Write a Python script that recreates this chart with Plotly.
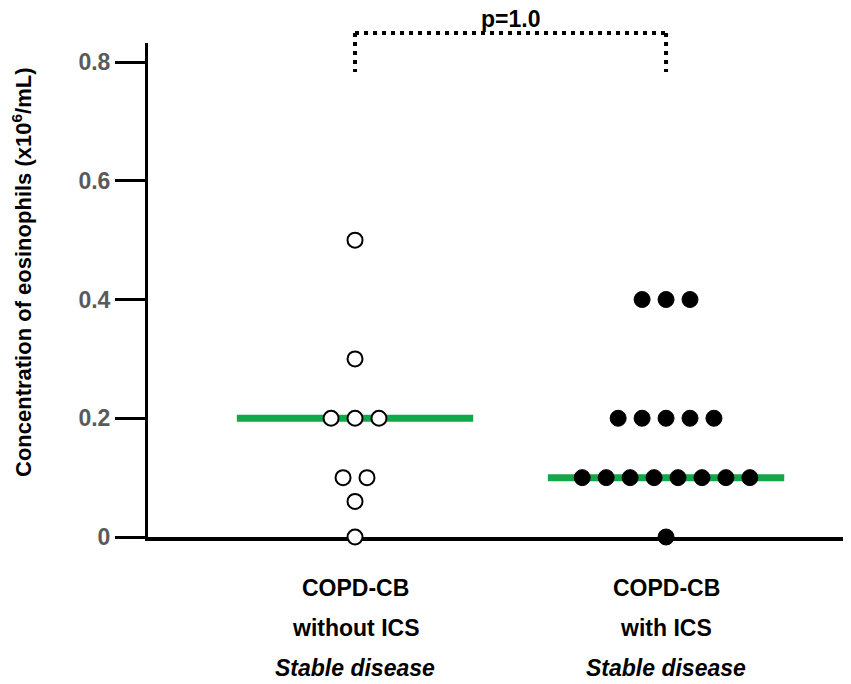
import numpy as np
import plotly.graph_objects as go

# ---- data ----
group_names = ["COPD-CB without ICS", "COPD-CB with ICS"]
group_label_lines = [["COPD-CB", "without ICS", "<i>Stable disease</i>"],
                     ["COPD-CB", "with ICS", "<i>Stable disease</i>"]]
without_ics = [0.5, 0.3, 0.2, 0.2, 0.2, 0.1, 0.1, 0.06, 0.0]
with_ics = [0.4, 0.4, 0.4,
            0.2, 0.2, 0.2, 0.2, 0.2,
            0.1, 0.1, 0.1, 0.1, 0.1, 0.1, 0.1, 0.1,
            0.0]
y_tick_vals = [0, 0.2, 0.4, 0.6, 0.8]
y_tick_text = ["0", "0.2", "0.4", "0.6", "0.8"]
y_title = "Concentration of eosinophils (x10<sup>6</sup>/mL)"
p_text = "p=1.0"

# ---- layout constants ----
FONT = "Liberation Sans, Arial, sans-serif"
XMIN, XMAX = 0.3344, 2.585
YMIN, YMAX = 0.0, 0.832
STEP = 0.077          # horizontal spacing of swarm points (x units)
HALF = 0.38           # half width of median bar
GREEN = "#12a84a"
OFF = 8               # page body margin in the browser
W, H = 851 - OFF, 684 - OFF
ML, MT = 148 - OFF, 43 - OFF
MB = 684 - 537
MR = W - (848 - OFF)


def swarm_x(values, center):
    xs = np.zeros(len(values))
    vals = np.array(values)
    for v in np.unique(vals):
        idx = np.where(vals == v)[0]
        n = len(idx)
        xs[idx] = center + (np.arange(n) - (n - 1) / 2) * STEP
    return xs


fig = go.Figure()
groups = [without_ics, with_ics]
for gi, vals in enumerate(groups):
    c = gi + 1
    med = float(np.median(vals))
    fig.add_trace(go.Scatter(x=[c - HALF, c + HALF], y=[med, med], mode="lines",
                             line=dict(color=GREEN, width=7), showlegend=False,
                             hoverinfo="skip"))

fig.add_trace(go.Scatter(x=swarm_x(without_ics, 1), y=without_ics, mode="markers",
                         marker=dict(size=15, color="white", line=dict(color="black", width=2)),
                         cliponaxis=False, showlegend=False, name=group_names[0]))
fig.add_trace(go.Scatter(x=swarm_x(with_ics, 2), y=with_ics, mode="markers",
                         marker=dict(size=16, color="black", line=dict(color="black", width=1)),
                         cliponaxis=False, showlegend=False, name=group_names[1]))


def px(x):
    return (x - XMIN) / (XMAX - XMIN)


plot_h = H - MT - MB
y_br = 1 + 10 / plot_h
y_leg = 1 - 29 / plot_h
dot = dict(color="black", width=4, dash="4px,5px")
fig.add_shape(type="line", xref="paper", yref="paper", x0=px(1), x1=px(2), y0=y_br, y1=y_br, line=dot)
fig.add_shape(type="line", xref="paper", yref="paper", x0=px(1), x1=px(1), y0=y_br, y1=y_leg, line=dot)
fig.add_shape(type="line", xref="paper", yref="paper", x0=px(2), x1=px(2), y0=y_br, y1=y_leg, line=dot)

fig.add_annotation(x=1.5, xref="x", y=1, yref="paper", yshift=9, text=p_text,
                   showarrow=False, yanchor="bottom",
                   font=dict(family=FONT, size=23, color="black", weight="bold"))

for gi, lines in enumerate(group_label_lines):
    for li, t in enumerate(lines):
        fig.add_annotation(x=gi + 1, xref="x", y=0, yref="paper", yshift=-51 - 40 * li,
                           text=t, showarrow=False, yanchor="middle",
                           font=dict(family=FONT, size=23, color="black", weight="bold"))

fig.add_annotation(x=0, xref="paper", xshift=22 - 148, y=(537 - 272) / plot_h, yref="paper",
                   text=y_title, textangle=-90, showarrow=False,
                   xanchor="center", yanchor="middle",
                   font=dict(family=FONT, size=22, color="black", weight="bold"))

fig.update_layout(
    width=W, height=H,
    margin=dict(l=ML, r=MR, t=MT, b=MB, pad=0),
    plot_bgcolor="white", paper_bgcolor="white",
    font=dict(family=FONT),
    xaxis=dict(range=[XMIN, XMAX], showline=True, linecolor="black", linewidth=4,
               showticklabels=False, ticks="", showgrid=False, zeroline=False,
               layer="below traces"),
    yaxis=dict(range=[YMIN, YMAX], showline=True, linecolor="black", linewidth=3,
               tickvals=y_tick_vals, ticktext=y_tick_text, ticks="outside",
               ticklen=30, tickwidth=3, tickcolor="black", showgrid=False, zeroline=False,
               tickfont=dict(family=FONT, size=23, color="#5a5a5a", weight="bold"),
               layer="below traces"),
)

fig.write_html("out.html")
